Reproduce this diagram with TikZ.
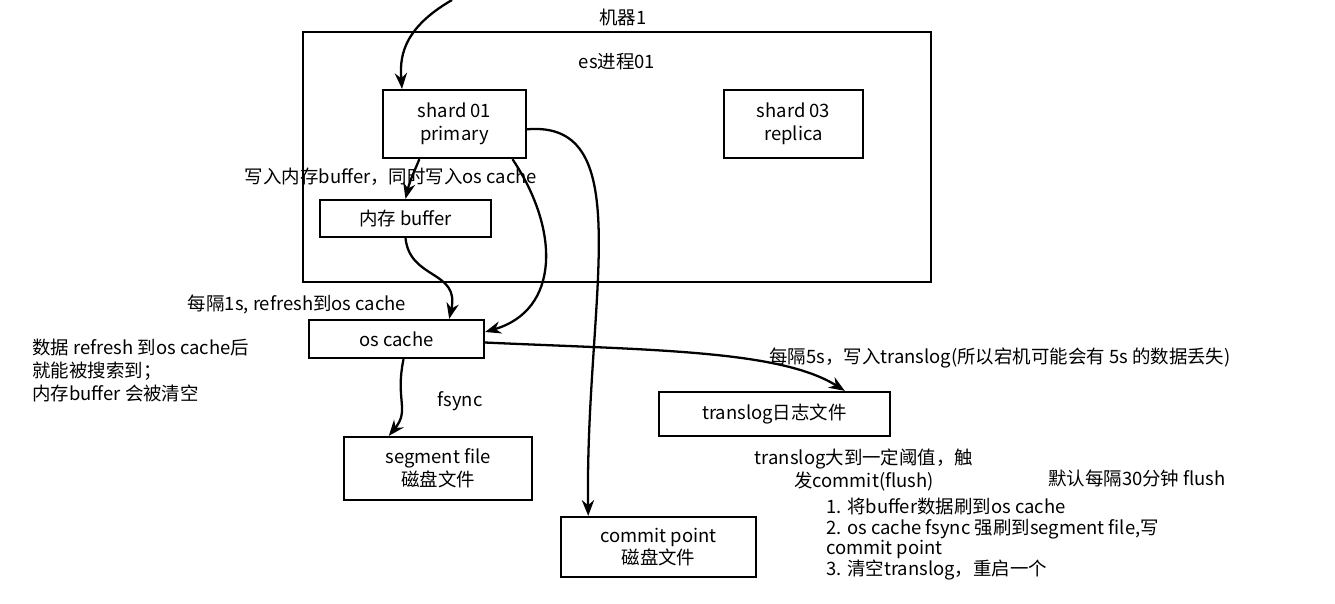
\documentclass[tikz,border=0pt]{standalone}
\usepackage{fontspec}
\setmainfont{Noto Sans CJK SC}
\usetikzlibrary{arrows.meta}
\begin{document}
\begin{tikzpicture}[x=0.02cm,y=-0.02cm,
  box/.style={draw,line width=1.3pt,inner sep=0pt},
  lbl/.style={inner sep=0pt,font=\fontsize{10.5}{13}\selectfont,align=left},
  arr/.style={draw,line width=1.3pt,-{Stealth[length=9pt,width=7pt]}}]
\useasboundingbox (0,0) rectangle (1335,603);
\fill[white] (0,0) rectangle (1335,603);
\node[box,minimum width=628*0.02cm,minimum height=250*0.02cm] (m) at (617,157) {};
\node[box,minimum width=143*0.02cm,minimum height=68*0.02cm,lbl,align=center] (s1) at (454.5,124) {shard 01\\primary};
\node[box,minimum width=139*0.02cm,minimum height=68*0.02cm,lbl,align=center] (s3) at (793.5,124) {shard 03\\replica};
\node[box,minimum width=171*0.02cm,minimum height=37*0.02cm,lbl] (buf) at (405.5,218.5) {内存 buffer};
\node[box,minimum width=175*0.02cm,minimum height=38*0.02cm,lbl] (oc) at (396.5,339) {os cache};
\node[box,minimum width=231*0.02cm,minimum height=44*0.02cm,lbl] (tl) at (774.5,414) {translog日志文件};
\node[box,minimum width=188*0.02cm,minimum height=63*0.02cm,lbl,align=center] (seg) at (438,468.5) {segment file\\磁盘文件};
\node[box,minimum width=195*0.02cm,minimum height=60*0.02cm,lbl,align=center] (cp) at (658.5,547) {commit point\\磁盘文件};
\node[lbl] (t1) at (623,17) {机器1};
\node[lbl] (t2) at (617,62) {es进程01};
\node[lbl] (t3) at (391,177) {写入内存buffer，同时写入os cache};
\node[lbl] (t4) at (297,304) {每隔1s, refresh到os cache};
\node[lbl,anchor=north west] (t5) at (32,339) {数据 refresh 到os cache后\\就能被搜索到；\\内存buffer 会被清空};
\node[lbl] (t6) at (460,401) {fsync};
\node[lbl] (t7) at (1000,358) {每隔5s，写入translog(所以宕机可能会有 5s 的数据丢失)};
\node[lbl,align=center] (t8) at (864,470) {translog大到一定阈值，触\\发commit(flush)};
\node[lbl] (t9) at (1137,478) {默认每隔30分钟 flush};
\node[lbl,anchor=north west,font=\fontsize{10.5}{11.7}\selectfont] (t10) at (826,498) {1. 将buffer数据刷到os cache\\2. os cache fsync 强刷到segment file,写\\commit point\\3. 清空translog，重启一个};
\coordinate (top) at (452,0);
\path[arr] (top) .. controls (400,30) and (400,60) .. (s1.north west -| 402,0);
\path[arr] ([xshift=-20pt]s1.south) .. controls (415,170) and (410,180) .. (buf.north);
\path[arr] ([xshift=33pt]s1.south) .. controls (560,230) and (560,310) .. ([yshift=4pt]oc.east);
\path[arr] ([yshift=-3pt]s1.east) .. controls (640,120) and (585,300) .. ([xshift=-40pt]cp.north);
\path[arr] (buf.south) .. controls (410,280) and (460,270) .. ([xshift=30pt]oc.north);
\path[arr] ([yshift=-2pt]oc.east) .. controls (650,350) and (780,350) .. ([xshift=40pt]tl.north);
\path[arr] ([xshift=4pt]oc.south) .. controls (395,400) and (410,410) .. ([xshift=-28pt]seg.north);
\end{tikzpicture}
\end{document}
